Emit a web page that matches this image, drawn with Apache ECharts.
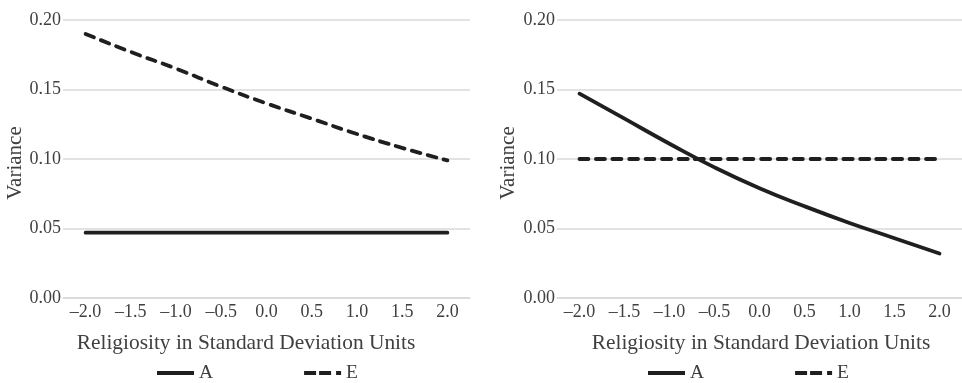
<!DOCTYPE html>
<html><head><meta charset="utf-8">
<script src="https://cdn.jsdelivr.net/npm/echarts@6/dist/echarts.min.js"></script>
<style>html,body{margin:0;padding:0;background:#fff}#c{width:962px;height:383px}</style>
</head><body><div id="c"></div>
<script>
const categories = ['\u20132.0','\u20131.5','\u20131.0','\u20130.5','0.0','0.5','1.0','1.5','2.0'];
const leftA  = [0.047,0.047,0.047,0.047,0.047,0.047,0.047,0.047,0.047];
const leftE  = [0.190,0.177,0.165,0.152,0.140,0.129,0.118,0.108,0.099];
const rightA = [0.147,0.129,0.111,0.094,0.079,0.066,0.054,0.043,0.032];
const rightE = [0.100,0.100,0.100,0.100,0.100,0.100,0.100,0.100,0.100];
const xTitle = 'Religiosity in Standard Deviation Units';
const yTitle = 'Variance';

const FONT = 'Liberation Serif';
const TXT = '#404040';
const LINE = '#1f1f1f';
const GRIDC = '#d9d9d9';
const FS = 18;

function xAxis(gi){
  return {type:'category', gridIndex:gi, data:categories, boundaryGap:true,
    axisLine:{show:true,lineStyle:{color:GRIDC,width:1.5}}, axisTick:{show:false},
    axisLabel:{color:TXT,fontFamily:FONT,fontSize:FS,margin:5}};
}
function yAxis(gi){
  return {type:'value', gridIndex:gi, min:0, max:0.2, interval:0.05,
    axisLine:{show:false}, axisTick:{show:false},
    splitLine:{lineStyle:{color:GRIDC,width:1.5}},
    axisLabel:{color:TXT,fontFamily:FONT,fontSize:FS,margin:2,formatter:v=>v.toFixed(2)}};
}
function solid(name,data,gi){
  return {name, type:'line', xAxisIndex:gi, yAxisIndex:gi, data, smooth:true, showSymbol:false, symbol:'none',
    lineStyle:{color:LINE,width:3.8,cap:'round'}, itemStyle:{color:LINE}};
}
function dashed(name,data,gi){
  return {name, type:'line', xAxisIndex:gi, yAxisIndex:gi, data, smooth:true, showSymbol:false, symbol:'none',
    lineStyle:{color:LINE,width:3.8,type:[9,7.5],cap:'round'}, itemStyle:{color:LINE}};
}
const iconA = 'path://M0,0H37V4H0Z';
const iconE = 'path://M0,0H12V4H0Z M15,0H27V4H15Z M32,0H37V4H32Z';
function legend(leftPx){
  return {left:leftPx, top:358, itemWidth:37, itemHeight:4, itemGap:91, orient:'horizontal',
    textStyle:{color:TXT,fontFamily:FONT,fontSize:19.5}, selectedMode:false,
    data:[{name:'A',icon:iconA},{name:'E',icon:iconE}]};
}
function hText(x){
  return {type:'text',x:x,y:343,style:{text:xTitle,fill:TXT,font:'21.4px "Liberation Serif"',textAlign:'center',textVerticalAlign:'middle'}};
}
function vText(x){
  return {type:'text',x:x,y:163,rotation:Math.PI/2,style:{text:yTitle,fill:TXT,font:'21px "Liberation Serif"',textAlign:'center',textVerticalAlign:'middle'}};
}

const chart = echarts.init(document.getElementById('c'), null, {renderer:'canvas'});
chart.setOption({
  animation:false,
  backgroundColor:'#fff',
  grid:[{left:63,top:20,width:407,bottom:85},{left:557,top:20,width:408,bottom:85}],
  xAxis:[xAxis(0),xAxis(1)],
  yAxis:[yAxis(0),yAxis(1)],
  legend:[legend(152),legend(643)],
  graphic:[hText(246),hText(761),vText(15),vText(508)],
  series:[solid('A',leftA,0),dashed('E',leftE,0),solid('A',rightA,1),dashed('E',rightE,1)]
});
</script></body></html>
